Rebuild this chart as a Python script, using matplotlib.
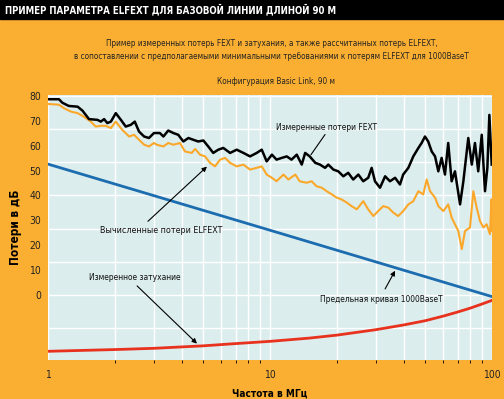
import matplotlib.pyplot as plt
from matplotlib.ticker import FixedLocator, NullFormatter

plt.rcParams['font.family'] = ['DejaVu Sans']
plt.rcParams['font.stretch'] = 'condensed'

# measured FEXT loss (black)
fext_f = [1.00, 1.12, 1.16, 1.24, 1.36, 1.43, 1.53, 1.67, 1.73, 1.79, 1.85, 1.92, 2.02, 2.13,
          2.24, 2.36, 2.46, 2.57, 2.71, 2.85, 3.00, 3.19, 3.31, 3.48, 3.67, 3.86, 4.07, 4.29,
          4.51, 4.75, 5.01, 5.27, 5.55, 5.85, 6.16, 6.61, 7.08, 7.59, 8.13, 8.71, 9.18, 9.66,
          10.2, 10.7, 11.3, 11.9, 12.5, 13.2, 13.9, 14.4, 15.1, 16.0, 16.8, 17.7, 18.3, 19.3,
          20.3, 21.4, 22.5, 23.7, 25.0, 26.3, 27.7, 28.7, 29.7, 31.3, 33.0, 34.7, 36.6, 38.5,
          39.8, 42.0, 44.2, 46.6, 48.2, 49.9, 51.6, 53.5, 55.4, 57.3, 59.3, 61.4, 63.5, 65.8,
          68.1, 71.8, 74.3, 78.2, 81.1, 83.8, 86.7, 89.9, 93.0, 95.3, 97.3, 99.7]
fext_db = [78.7, 78.7, 77.3, 76.0, 75.7, 74.1, 70.7, 70.4, 69.7, 70.7, 69.1, 69.7, 73.1, 70.4,
           67.7, 68.4, 69.7, 65.7, 63.7, 63.1, 65.1, 65.1, 63.7, 66.1, 65.1, 64.4, 61.7, 63.1,
           62.4, 61.7, 62.1, 59.7, 57.1, 58.4, 59.1, 57.1, 58.4, 57.1, 55.7, 57.1, 58.4, 53.7,
           56.4, 54.4, 55.1, 55.7, 54.4, 56.4, 52.4, 57.1, 55.7, 53.1, 52.4, 51.1, 52.4, 50.4,
           49.7, 47.7, 49.1, 46.4, 48.4, 45.7, 47.1, 51.1, 45.7, 43.1, 47.7, 45.7, 47.1, 44.4,
           48.4, 51.1, 55.7, 59.1, 61.1, 63.7, 61.7, 57.7, 55.7, 49.7, 55.1, 48.4, 61.1, 45.7,
           49.7, 36.4, 45.7, 63.1, 52.4, 61.1, 49.7, 64.4, 41.7, 51.1, 72.4, 52.4]

# calculated ELFEXT loss (orange)
elfext_f = [1.00, 1.12, 1.18, 1.27, 1.36, 1.45, 1.56, 1.64, 1.73, 1.82, 1.92, 2.02, 2.16, 2.32,
            2.44, 2.57, 2.71, 2.85, 3.00, 3.09, 3.31, 3.48, 3.67, 3.93, 4.14, 4.44, 4.60, 4.84,
            5.10, 5.37, 5.65, 5.96, 6.28, 6.61, 7.08, 7.59, 8.13, 8.71, 9.18, 9.66, 10.2, 10.7,
            11.5, 12.1, 13.0, 13.6, 14.6, 15.4, 16.2, 17.1, 18.0, 19.0, 20.0, 21.0, 22.2, 23.3,
            24.6, 26.3, 27.7, 29.2, 30.7, 32.4, 34.1, 35.9, 37.8, 39.8, 42.0, 44.2, 46.6, 49.0,
            50.8, 52.6, 55.4, 57.3, 60.4, 63.5, 65.8, 68.1, 70.5, 73.1, 75.6, 79.6, 82.4, 85.3,
            88.3, 91.4, 94.6, 97.9, 99.5, 100.0]
elfext_db = [76.8, 76.5, 75.1, 73.7, 73.1, 71.7, 69.7, 67.7, 68.0, 68.0, 67.1, 69.7, 66.4, 63.7,
             64.4, 62.4, 60.4, 59.7, 61.1, 60.4, 59.7, 61.1, 60.4, 61.1, 57.7, 57.1, 58.7, 56.4,
             55.7, 53.1, 51.7, 54.4, 55.1, 53.1, 51.7, 52.4, 50.4, 51.1, 51.7, 48.4, 47.1, 45.7,
             48.4, 46.4, 48.4, 45.7, 45.1, 45.7, 43.7, 43.1, 41.7, 40.4, 39.1, 38.4, 37.1, 35.7,
             34.4, 37.7, 34.4, 31.7, 33.7, 35.7, 35.1, 33.1, 31.7, 33.7, 36.4, 37.7, 41.7, 40.4,
             46.4, 41.7, 39.1, 35.7, 33.7, 36.4, 31.1, 28.4, 25.7, 18.4, 25.7, 27.1, 41.7, 35.1,
             29.7, 27.1, 28.4, 24.4, 38.4, 25.7]

# 1000BaseT limit (blue)
limit_f = [1, 10, 100]
limit_db = [52.6, 26.0, -0.7]

# measured attenuation (red)
atten_f = [1, 2, 3, 5, 7, 10, 15, 20, 30, 40, 50, 60, 70, 80, 90, 100]
atten_db = [-22.7, -22.0, -21.5, -20.5, -19.6, -18.7, -17.4, -16.2, -14.0, -12.1,
            -10.4, -8.6, -6.9, -5.3, -3.7, -2.2]

y_labels = [0, 10, 20, 30, 40, 50, 60, 70, 80]
x_labels = [1, 10, 100]

ORANGE = '#FBAF32'
W, H = 504, 399

fig = plt.figure(figsize=(W / 100, H / 100), dpi=100, facecolor=ORANGE)
ax = fig.add_axes([48 / W, 1 - 360 / H, 444 / W, 265 / H])
ax.set_facecolor('#DCEDEE')

# black title bar
fig.patches.append(plt.Rectangle((0, 1 - 18.5 / H), 1, 18.5 / H, transform=fig.transFigure,
                                 color='black', zorder=0))
fig.text(5 / W, 1 - 9.5 / H, 'ПРИМЕР ПАРАМЕТРА ELFEXT ДЛЯ БАЗОВОЙ ЛИНИИ ДЛИНОЙ 90 М',
         color='white', fontsize=6.9, fontweight='bold', va='center', ha='left')
fig.text(272 / W, 1 - 44 / H,
         'Пример измеренных потерь FEXT и затухания, а также рассчитанных потерь ELFEXT,',
         fontsize=5.9, ha='center', va='center', color='#222222')
fig.text(271 / W, 1 - 56 / H,
         'в сопоставлении с предполагаемыми минимальными требованиями к потерям ELFEXT для 1000BaseT',
         fontsize=5.9, ha='center', va='center', color='#222222')
fig.text(276 / W, 1 - 81 / H, 'Конфигурация Basic Link, 90 м',
         fontsize=5.9, ha='center', va='center', color='#222222')

ax.plot(atten_f, atten_db, color='#E8321E', lw=2.0, zorder=3)
ax.plot(limit_f, limit_db, color='#1C6CB0', lw=2.0, zorder=3)
ax.plot(elfext_f, elfext_db, color='#FBA82A', lw=1.5, zorder=4)
ax.plot(fext_f, fext_db, color='black', lw=1.8, zorder=5)

ax.set_xscale('log')
ax.set_xlim(1, 100)
ax.set_ylim(-26.2, 80.4)

# grid: log grid in x, 8 equal bands in y
ax.xaxis.set_minor_locator(FixedLocator([2, 3, 4, 5, 6, 7, 8, 9, 20, 30, 40, 50, 60, 70, 80, 90]))
ax.xaxis.set_minor_formatter(NullFormatter())
ax.set_xticks(x_labels)
ax.set_xticklabels([str(v) for v in x_labels])
ax.grid(True, which='both', axis='x', color='white', lw=1.0)
for k in range(-2, 7):
    ax.axhline(k * 40 / 3, color='white', lw=1.0, zorder=1)
ax.set_yticks(y_labels)
ax.set_yticklabels([str(v) for v in y_labels])
ax.tick_params(length=0, labelsize=7.5, colors='#222222')
ax.tick_params(axis='y', pad=5)
ax.tick_params(axis='x', pad=7)
for s in ax.spines.values():
    s.set_visible(False)

ax.set_xlabel('Частота в МГц', fontsize=7.2, fontweight='bold', labelpad=6)
ax.set_ylabel('Потери в дБ', fontsize=8.5, fontweight='bold', labelpad=5)

ann = dict(fontsize=6.0, ha='center', va='center', color='#111111', zorder=6)
arrow = dict(arrowstyle='-|>', color='black', lw=0.8, mutation_scale=7, shrinkA=0, shrinkB=0)
line = dict(arrowstyle='-', color='black', lw=0.8, shrinkA=0, shrinkB=0)

ax.text(17.9, 67.2, 'Измеренные потери FEXT', **ann)
ax.annotate('', xy=(15.3, 56.4), xytext=(17.7, 64.5), arrowprops=line)

ax.text(3.25, 26.0, 'Вычисленные потери ELFEXT', fontsize=6.4, ha='center', va='center',
        color='#111111', zorder=6)
ax.annotate('', xy=(5.2, 51.6), xytext=(2.82, 29.6), arrowprops=arrow)

ax.text(2.47, 6.8, 'Измеренное затухание', **ann)
ax.annotate('', xy=(4.69, -19.6), xytext=(2.52, 3.6), arrowprops=arrow)

ax.text(31.6, -2.0, 'Предельная кривая 1000BaseT', **ann)
ax.annotate('', xy=(36.6, 9.7), xytext=(33.0, 2.4), arrowprops=arrow)

fig.savefig('out.png', dpi=100, facecolor=ORANGE)
